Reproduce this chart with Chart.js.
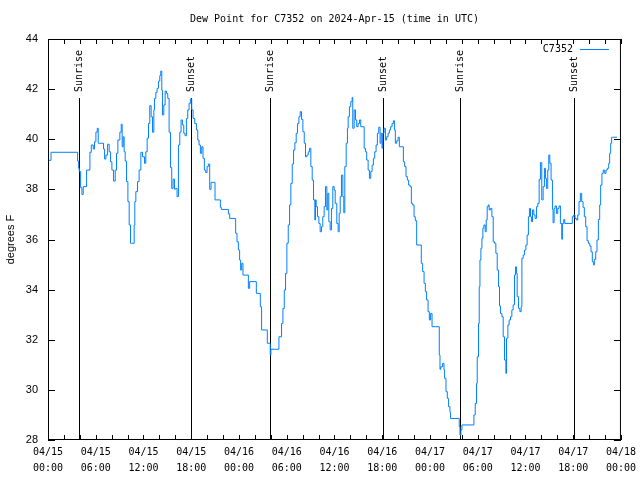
<!DOCTYPE html>
<html>
<head>
<meta charset="utf-8">
<title>Dew Point for C7352</title>
<script src="https://cdn.jsdelivr.net/npm/chart.js@4.4.1/dist/chart.umd.min.js"></script>
<style>
  html, body { margin: 0; padding: 0; background: #fff; }
  #wrap { width: 640px; height: 480px; }
</style>
</head>
<body>
<div id="wrap"><canvas id="dewChart" width="640" height="480"></canvas></div>
<script>
// hours since 04/15 00:00 UTC
const hours = [
  0, 0.38, 1.63, 3.72, 3.85, 3.93, 4.10, 4.26, 4.43, 4.85, 5.27, 5.44, 5.69, 5.85, 6.02, 6.19, 6.31, 6.44, 6.98,
  7.11, 7.28, 7.49, 7.69, 7.86, 8.03, 8.24, 8.45, 8.61, 8.78, 9.03, 9.20, 9.32, 9.45, 9.57, 9.70, 9.87, 10.04,
  10.20, 10.37, 10.50, 10.83, 10.91, 11.04, 11.25, 11.45, 11.67, 11.88, 12.13, 12.29, 12.46, 12.63, 12.79, 12.96,
  13.13, 13.30, 13.38, 13.55, 13.71, 13.88, 14.05, 14.17, 14.30, 14.38, 14.55, 14.72, 14.89, 15.05, 15.22, 15.39,
  15.55, 15.72, 15.89, 16.06, 16.22, 16.39, 16.56, 16.72, 16.89, 17.06, 17.22, 17.39, 17.56, 17.73, 17.89, 18.06,
  18.23, 18.44, 18.65, 18.82, 18.98, 19.15, 19.32, 19.48, 19.65, 19.82, 19.99, 20.15, 20.32, 20.49, 20.99, 21.66,
  21.78, 22.67, 22.83, 23.58, 23.75, 23.92, 24.08, 24.21, 24.34, 24.50, 25.18, 25.34, 26.18, 26.68, 26.84, 27.56,
  27.93, 28.01, 29.02, 29.35, 29.52, 29.69, 29.85, 30.02, 30.19, 30.36, 30.52, 30.69, 30.86, 31.02, 31.19, 31.36,
  31.53, 31.69, 31.86, 32.03, 32.20, 32.36, 32.53, 32.70, 32.87, 33.03, 33.20, 33.37, 33.53, 33.62, 33.70, 33.87,
  34.04, 34.20, 34.37, 34.53, 34.70, 34.87, 35.04, 35.16, 35.29, 35.46, 35.62, 35.79, 35.96,
  36.09, 36.29, 36.46, 36.59, 36.72, 36.88, 37.05, 37.17, 37.30, 37.47, 37.63, 37.72, 37.88, 38.05, 38.22, 38.30,
  38.47, 38.64, 38.80, 38.97, 39.14, 39.30, 39.73, 39.89, 40.05, 40.23, 40.39, 40.56, 40.73, 40.89, 41.06, 41.23,
  41.39, 41.56, 41.73, 41.86, 41.98, 42.06, 42.23, 42.40, 42.56, 42.74, 42.90, 43.06, 43.24, 43.40, 43.53, 43.65,
  43.82, 43.99, 44.15, 44.66, 44.82, 44.99, 45.16, 45.32, 45.50, 45.66, 45.82, 46.00, 46.16, 46.33, 46.91, 47.08,
  47.26, 47.42, 47.58, 47.76, 47.92, 48.08, 48.26, 49.17, 49.26, 49.34, 49.59, 49.76, 49.84, 50.01, 50.18, 50.34,
  50.51, 50.59, 51.68, 51.77, 51.89, 52.02, 53.52, 53.69, 53.85, 53.94, 54.10, 54.19,
  54.28, 54.40, 54.53, 54.65, 54.78, 54.94, 55.07, 55.19, 55.32, 55.44, 55.61, 55.78, 55.95, 56.11, 56.28, 56.45,
  56.61, 56.74, 56.86, 57.04, 57.20, 57.37, 57.54, 57.62, 57.79, 57.95, 58.12, 58.29, 58.45, 58.62, 58.74, 58.87,
  58.96, 59.12, 59.30, 59.46, 59.55, 59.71, 59.87, 60.05, 60.21, 60.37, 60.50, 60.63, 60.75, 60.88, 61.05, 61.21,
  61.38, 61.55, 61.72, 61.88, 62.05, 62.22, 62.38, 62.51, 62.63, 62.80, 62.93, 63.06, 63.22, 63.39, 63.47, 63.60,
  63.72, 63.89, 64.06, 64.22, 64.39, 64.56, 64.64, 64.81, 64.94, 65.89, 66.06, 66.23, 66.40, 66.57, 66.73, 66.90,
  67.07, 67.24, 67.40, 67.57, 67.74, 67.91, 68.08, 68.24, 68.40, 68.58, 68.65, 68.83, 68.99, 69.16, 69.33, 69.45,
  69.61, 69.78, 69.96, 70.12, 70.28, 70.46, 70.58, 70.71, 70.83, 70.96, 71.50
];

// dew point, degrees F
const dewPoint = [
  38.84, 39.16, 39.48, 39.48, 39.13, 38.84, 38.71, 38.07, 37.80, 38.11, 38.77, 39.48, 39.77, 39.61, 39.90, 40.28, 40.44, 39.84, 39.84,
  39.61, 39.21, 39.37, 39.80, 39.50, 39.10, 38.77, 38.33, 38.77, 39.44, 39.97, 40.28, 40.60, 39.70, 40.10, 39.50, 39.13, 38.31,
  37.51, 36.58, 35.85, 35.85, 36.58, 37.51, 37.91, 38.31, 38.77, 39.48, 39.30, 39.04, 39.50, 40.04, 40.63, 41.34,
  40.90, 40.28, 41.17, 41.63, 41.87, 42.03, 42.32, 42.54, 42.72, 41.96, 40.97, 41.37, 41.92, 41.83, 41.63, 40.28,
  38.87, 38.04, 38.41, 38.01, 38.04, 37.71, 39.77, 40.28, 40.77, 40.57, 40.24, 40.14, 40.83, 41.17, 41.43, 41.61,
  41.17, 40.83, 40.63, 40.37, 39.97, 39.77, 39.44, 39.70, 39.24, 38.77, 38.67, 38.91, 39.01, 38.00, 38.28, 37.58,
  37.28, 37.20, 37.02, 36.84, 36.25, 35.91, 35.58, 35.18, 34.78, 35.05, 34.58, 34.05, 34.32, 33.85, 33.32, 32.39,
  31.86, 31.39, 31.62, 32.12, 32.65, 33.25, 33.98, 34.65, 35.85, 36.58, 37.38, 38.24, 39.01, 39.57, 39.86, 40.24,
  40.63, 40.90, 41.10, 40.79, 40.30, 39.84, 39.30, 39.37, 39.50, 39.64, 38.91, 38.37, 37.58, 36.78, 37.58, 37.31,
  36.91, 36.64, 36.31, 36.51, 36.91, 37.31, 38.11, 37.18, 37.84, 36.71, 36.38, 37.24, 38.11,
  37.97, 37.44, 36.64, 36.31, 37.04, 37.71, 38.57, 37.71, 37.07, 38.91, 39.84, 40.44, 40.90, 41.30, 41.50, 41.67,
  40.44, 41.17, 40.77, 40.50, 40.63, 40.77, 40.50, 39.64, 39.50, 39.17, 38.77, 38.44, 38.71, 38.97, 39.24, 39.50,
  39.77, 40.24, 40.48, 39.84, 40.24, 39.64, 40.24, 40.44, 39.97, 40.10, 40.24, 40.37, 40.50, 40.63, 40.74, 40.37,
  39.84, 39.94, 40.08, 39.70, 39.10, 38.91, 38.51, 38.37, 38.17, 38.11, 37.44, 37.38, 36.91, 36.75, 35.78, 35.05,
  34.72, 34.25, 33.92, 33.59, 33.12, 32.79, 33.05, 32.52, 31.39, 30.82, 30.92, 31.06, 30.79, 30.46, 29.93, 29.66,
  29.33, 29.10, 28.86, 28.53, 28.20, 28.40, 28.60, 29.00, 29.46, 30.26, 31.32, 32.65,
  34.12, 35.18, 35.65, 36.05, 36.45, 36.58, 36.31, 36.78, 37.31, 37.38, 37.18, 37.24, 36.91, 35.91, 35.85, 35.45,
  34.78, 34.12, 33.35, 33.05, 32.92, 32.12, 31.19, 30.66, 32.06, 32.59, 32.79, 32.92, 33.19, 33.39, 34.58, 34.91,
  34.65, 33.72, 33.25, 33.12, 33.32, 35.25, 35.38, 35.58, 35.78, 36.18, 36.91, 37.24, 36.91, 36.71, 37.18, 36.98,
  36.84, 37.31, 37.44, 38.40, 39.07, 37.58, 38.11, 38.84, 38.44, 38.04, 38.77, 39.37, 39.04, 38.37, 37.20, 36.67,
  37.24, 37.34, 37.04, 37.24, 37.34, 36.64, 36.01, 36.64, 36.80, 36.64, 36.91, 36.98, 36.84, 36.78, 36.98, 37.51,
  37.84, 37.51, 37.28, 36.91, 36.51, 35.95, 35.85, 35.74, 35.51, 35.11, 34.98, 35.21, 35.51, 35.98, 36.80, 37.38,
  38.17, 38.64, 38.77, 38.64, 38.77, 38.84, 39.04, 39.44, 39.84, 40.08, 40.08
];

// sunrise / sunset markers (hours since start)
const eventHours = [3.93, 17.98, 27.89, 42.06, 51.81, 66.15];
const eventNames = ['Sunrise', 'Sunset', 'Sunrise', 'Sunset', 'Sunrise', 'Sunset'];

// x tick labels every 6 hours
const dayLabels = ['04/15', '04/16', '04/17', '04/18'];
const timeLabels = ['00:00', '06:00', '12:00', '18:00'];

const seriesName = 'C7352';
const chartTitle = 'Dew Point for C7352 on 2024-Apr-15 (time in UTC)';
const lineColor = 'rgb(0,128,255)';
const monoFont = '10px "DejaVu Sans Mono", monospace';

/**
 * gnuplot-like frame: box, inward ticks, markers, title, key
 */
const gnuplotFrame = {
  id: 'gnuplotFrame',
  beforeDatasetsDraw(chart) {
    const { ctx, chartArea: a, scales: { x } } = chart;
    ctx.save();
    ctx.strokeStyle = '#000';
    ctx.fillStyle = '#000';
    ctx.lineWidth = 1;
    ctx.font = monoFont;
    eventHours.forEach((h, i) => {
      const px = Math.round(x.getPixelForValue(h)) + 0.5;
      ctx.beginPath();
      ctx.moveTo(px, a.top + 59);
      ctx.lineTo(px, a.bottom);
      ctx.stroke();
      ctx.save();
      ctx.translate(px, a.top + 53);
      ctx.rotate(-Math.PI / 2);
      ctx.textAlign = 'left';
      ctx.textBaseline = 'middle';
      ctx.fillText(eventNames[i], 0, 0);
      ctx.restore();
    });
    ctx.restore();
  },
  afterDraw(chart) {
    const { ctx, chartArea: a, scales: { x, y } } = chart;
    ctx.save();
    ctx.strokeStyle = '#000';
    ctx.lineWidth = 1;

    // box
    ctx.strokeRect(a.left + 0.5, a.top + 0.5, a.right - a.left - 1, a.bottom - a.top - 1);

    // inward ticks, mirrored
    ctx.beginPath();
    x.ticks.forEach(t => {
      const px = Math.round(x.getPixelForValue(t.value)) + 0.5;
      ctx.moveTo(px, a.bottom); ctx.lineTo(px, a.bottom - 5);
      ctx.moveTo(px, a.top); ctx.lineTo(px, a.top + 5);
    });
    y.ticks.forEach(t => {
      const py = Math.round(y.getPixelForValue(t.value)) + 0.5;
      ctx.moveTo(a.left, py); ctx.lineTo(a.left + 7, py);
      ctx.moveTo(a.right, py); ctx.lineTo(a.right - 7, py);
    });
    ctx.stroke();

    // title
    ctx.fillStyle = '#000';
    ctx.font = monoFont;
    ctx.textAlign = 'center';
    ctx.textBaseline = 'middle';
    ctx.fillText(chartTitle, (a.left + a.right) / 2, 19);

    // key
    ctx.textAlign = 'right';
    ctx.fillText(seriesName, a.right - 48, a.top + 10);
    ctx.strokeStyle = lineColor;
    ctx.beginPath();
    ctx.moveTo(a.right - 41, a.top + 10.5);
    ctx.lineTo(a.right - 12, a.top + 10.5);
    ctx.stroke();
    ctx.restore();
  }
};

document.addEventListener('DOMContentLoaded', () => {
  const ctx = document.getElementById('dewChart');

  new Chart(ctx, {
    type: 'line',
    data: {
      datasets: [{
        label: seriesName,
        data: hours.map((h, i) => ({ x: h, y: dewPoint[i] })),
        borderColor: lineColor,
        borderWidth: 1,
        pointRadius: 0,
        tension: 0,
        stepped: 'after',
        fill: false
      }]
    },
    options: {
      responsive: false,
      animation: false,
      devicePixelRatio: 1,
      layout: { padding: { top: 39, right: 18, left: 0, bottom: 0 } },
      plugins: {
        legend: { display: false },
        title: { display: false },
        tooltip: { enabled: false }
      },
      scales: {
        x: {
          type: 'linear',
          min: 0,
          max: 72,
          afterFit: s => { s.height = 40; },
          grid: { display: false, drawTicks: false },
          border: { display: false },
          ticks: {
            stepSize: 2,
            autoSkip: false,
            maxRotation: 0,
            padding: 4,
            color: '#000',
            font: { family: '"DejaVu Sans Mono", monospace', size: 10, lineHeight: 1.6 },
            callback: v => {
              if (v % 6 !== 0) return '';
              return [dayLabels[Math.floor(v / 24)], timeLabels[(v % 24) / 6]];
            }
          }
        },
        y: {
          min: 28,
          max: 44,
          afterFit: s => { s.width = 48; },
          grid: { display: false, drawTicks: false },
          border: { display: false },
          ticks: {
            stepSize: 2,
            padding: 10,
            color: '#000',
            font: { family: '"Liberation Sans", Arial, sans-serif', size: 11 }
          },
          title: {
            display: true,
            text: 'degrees F',
            color: '#000',
            padding: { top: 4, bottom: 0 },
            font: { family: '"Liberation Sans", Arial, sans-serif', size: 11 }
          }
        }
      }
    },
    plugins: [gnuplotFrame]
  });
});
</script>
</body>
</html>
